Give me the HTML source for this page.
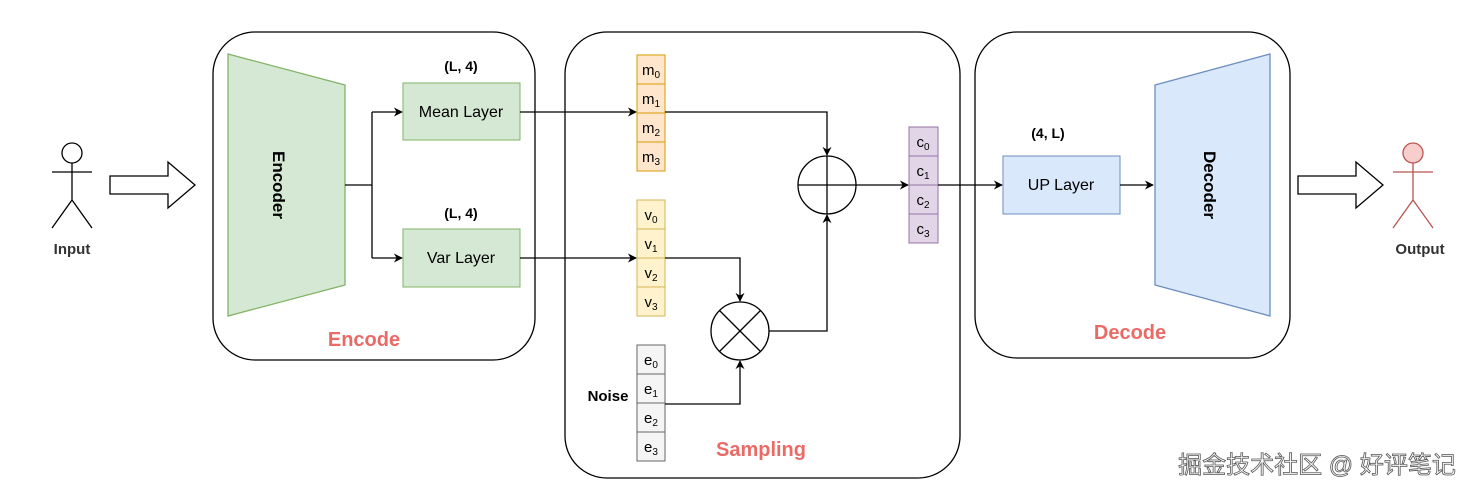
<!DOCTYPE html>
<html><head><meta charset="utf-8"><style>
body{margin:0;background:#fff}
svg{display:block}
text{font-family:"Liberation Sans",sans-serif}
</style></head><body>
<svg width="1476" height="494" viewBox="0 0 1476 494" xmlns="http://www.w3.org/2000/svg">
<defs><marker id="a" viewBox="0 0 10 10" refX="9" refY="5" markerWidth="9" markerHeight="9" markerUnits="userSpaceOnUse" orient="auto"><path d="M0,0 L10,5 L0,10 L3,5 z" fill="#000"/></marker></defs>
<g fill="none" stroke="#000" stroke-width="1.3">
<rect x="213" y="32" width="322" height="328" rx="42"/>
<rect x="565" y="32" width="395" height="446" rx="42"/>
<rect x="975" y="32" width="315" height="326" rx="42"/>
</g>
<polygon points="228,54 345,85 345,285 228,316" fill="#d5e8d4" stroke="#82b366" stroke-width="1.3"/>
<text transform="translate(279,185) rotate(90)" text-anchor="middle" font-size="17" font-weight="bold" dy="6">Encoder</text>
<polygon points="1155,85 1270,54 1270,316 1155,285" fill="#dae8fc" stroke="#6c8ebf" stroke-width="1.3"/>
<text transform="translate(1210,185) rotate(90)" text-anchor="middle" font-size="17" font-weight="bold" dy="6">Decoder</text>
<rect x="403" y="83" width="117" height="57" fill="#d5e8d4" stroke="#82b366"/>
<text x="461" y="117" text-anchor="middle" font-size="16">Mean Layer</text>
<rect x="403" y="229" width="117" height="58" fill="#d5e8d4" stroke="#82b366"/>
<text x="461" y="263" text-anchor="middle" font-size="16">Var Layer</text>
<text x="461" y="71" text-anchor="middle" font-size="14" font-weight="bold">(L, 4)</text>
<text x="461" y="218" text-anchor="middle" font-size="14" font-weight="bold">(L, 4)</text>
<rect x="1003" y="156" width="117" height="58" fill="#dae8fc" stroke="#6c8ebf"/>
<text x="1061" y="190" text-anchor="middle" font-size="16">UP Layer</text>
<text x="1048" y="138" text-anchor="middle" font-size="14" font-weight="bold">(4, L)</text>
<g font-size="15" text-anchor="middle">
<g stroke="#d79b00" fill="#ffe6cc"><rect x="637" y="55" width="28" height="29"/><rect x="637" y="84" width="28" height="29"/><rect x="637" y="113" width="28" height="29"/><rect x="637" y="142" width="28" height="29"/></g>
<text x="651" y="75">m<tspan font-size="10" dy="3">0</tspan></text><text x="651" y="104">m<tspan font-size="10" dy="3">1</tspan></text><text x="651" y="133">m<tspan font-size="10" dy="3">2</tspan></text><text x="651" y="162">m<tspan font-size="10" dy="3">3</tspan></text>
<g stroke="#d6b656" fill="#fff2cc"><rect x="637" y="200" width="28" height="29"/><rect x="637" y="229" width="28" height="29"/><rect x="637" y="258" width="28" height="29"/><rect x="637" y="287" width="28" height="29"/></g>
<text x="651" y="220">v<tspan font-size="10" dy="3">0</tspan></text><text x="651" y="249">v<tspan font-size="10" dy="3">1</tspan></text><text x="651" y="278">v<tspan font-size="10" dy="3">2</tspan></text><text x="651" y="307">v<tspan font-size="10" dy="3">3</tspan></text>
<g stroke="#666" fill="#f5f5f5"><rect x="637" y="345" width="28" height="29"/><rect x="637" y="374" width="28" height="29"/><rect x="637" y="403" width="28" height="29"/><rect x="637" y="432" width="28" height="29"/></g>
<text x="651" y="365">e<tspan font-size="10" dy="3">0</tspan></text><text x="651" y="394">e<tspan font-size="10" dy="3">1</tspan></text><text x="651" y="423">e<tspan font-size="10" dy="3">2</tspan></text><text x="651" y="452">e<tspan font-size="10" dy="3">3</tspan></text>
<g stroke="#9673a6" fill="#e1d5e7"><rect x="909" y="127" width="29" height="29"/><rect x="909" y="156" width="29" height="29"/><rect x="909" y="185" width="29" height="29"/><rect x="909" y="214" width="29" height="29"/></g>
<text x="923" y="147">c<tspan font-size="10" dy="3">0</tspan></text><text x="923" y="176">c<tspan font-size="10" dy="3">1</tspan></text><text x="923" y="205">c<tspan font-size="10" dy="3">2</tspan></text><text x="923" y="234">c<tspan font-size="10" dy="3">3</tspan></text>
</g>
<text x="608" y="401" text-anchor="middle" font-size="15" font-weight="bold">Noise</text>
<g fill="none" stroke="#000" stroke-width="1.3">
<path d="M345,185 H372 M372,112 V258"/>
<path d="M372,112 H402" marker-end="url(#a)"/>
<path d="M372,258 H402" marker-end="url(#a)"/>
<path d="M520,112 H636" marker-end="url(#a)"/>
<path d="M520,258 H636" marker-end="url(#a)"/>
<path d="M665,112 H827 V155" marker-end="url(#a)"/>
<circle cx="827" cy="185" r="29"/>
<path d="M798,185 H856 M827,156 V214"/>
<path d="M856,185 H908" marker-end="url(#a)"/>
<path d="M938,185 H1002" marker-end="url(#a)"/>
<path d="M1120,185 H1153" marker-end="url(#a)"/>
<path d="M665,258 H740 V301" marker-end="url(#a)"/>
<circle cx="740" cy="331" r="29"/>
<path d="M719.5,310.5 L760.5,351.5 M760.5,310.5 L719.5,351.5"/>
<path d="M665,404 H740 V361" marker-end="url(#a)"/>
<path d="M769,331 H827 V215" marker-end="url(#a)"/>
<path d="M110,176 H168 V162 L195,185 L168,208 V194 H110 Z"/>
<path d="M1298,176 H1356 V162 L1383,185 L1356,208 V194 H1298 Z"/>
<circle cx="72" cy="153" r="10"/>
<path d="M72,163 V200 M52,172 H92 M72,200 L52,228 M72,200 L92,228"/>
</g>
<g fill="none" stroke="#b85450" stroke-width="1.3">
<circle cx="1413" cy="153" r="10" fill="#f8cecc"/>
<path d="M1413,163 V200 M1393,172 H1433 M1413,200 L1393,228 M1413,200 L1433,228"/>
</g>
<text x="72" y="254" text-anchor="middle" font-size="15" font-weight="bold" fill="#333">Input</text>
<text x="1420" y="254" text-anchor="middle" font-size="15" font-weight="bold" fill="#333">Output</text>
<g font-size="20" font-weight="bold" fill="#ea6b66" text-anchor="middle">
<text x="364" y="346">Encode</text><text x="761" y="456">Sampling</text><text x="1130" y="339">Decode</text>
</g>
<text x="1317" y="473" text-anchor="middle" font-size="24" fill="#fff" stroke="#555" stroke-width="0.8" style="font-family:'Liberation Sans','Noto Sans CJK SC',sans-serif">掘金技术社区 @ 好评笔记</text>
</svg>
</body></html>
